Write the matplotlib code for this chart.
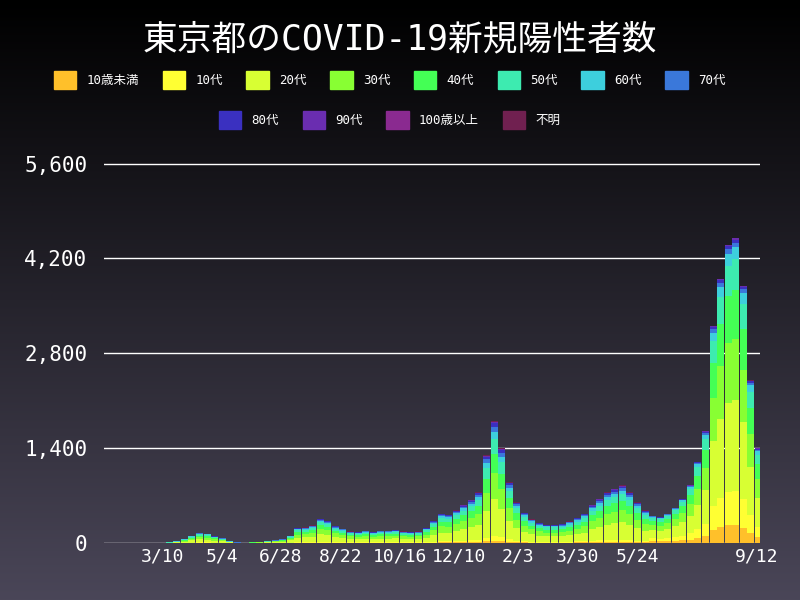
import numpy as np
import pandas as pd
import matplotlib
matplotlib.use("Agg")
import matplotlib.pyplot as plt
from matplotlib.patches import Patch
from matplotlib.colors import LinearSegmentedColormap

plt.rcParams['font.family'] = ['DejaVu Sans Mono', 'Noto Sans CJK JP']

groups = ['10歳未満', '10代', '20代', '30代', '40代', '50代', '60代', '70代',
          '80代', '90代', '100歳以上', '不明']
colors = ['#FFC02A', '#FFFF33', '#D8FF33', '#88FF33', '#44FF55', '#3DEBB0',
          '#3DCFDD', '#3A78DA', '#3A30C0', '#6A2DB0', '#8A2A90', '#702050']

# weekly average of daily new cases, weeks starting 2020-01-24
weekly_totals = [1, 1, 2, 3, 3, 5,
                 6, 10, 25, 60,
                 110, 150, 140, 100,
                 70, 25, 8, 5, 12,
                 18, 30, 40, 55,
                 110, 220, 230, 260, 360,
                 330, 250, 210, 170,
                 160, 180, 160, 180,
                 180, 190, 170, 160, 170,
                 220, 330, 430, 420,
                 480, 560, 640, 750,
                 1300, 1800, 1400, 900, 600,
                 450, 350, 300, 270,
                 270, 280, 320, 370,
                 430, 560, 650, 750, 800,
                 850, 750, 600, 480,
                 400, 380, 430, 520,
                 650, 850, 1200, 1650, 3200,
                 3900, 4400, 4500, 3800,
                 2400, 1400]
shares_early = [0.02, 0.04, 0.30, 0.21, 0.16, 0.12, 0.06, 0.04, 0.03, 0.01, 0.0, 0.01]
shares_late = [0.06, 0.11, 0.30, 0.20, 0.16, 0.10, 0.04, 0.015, 0.01, 0.004, 0.0, 0.001]
tick_labels = ['3/10', '5/4', '6/28', '8/22', '10/16', '12/10', '2/3', '3/30', '5/24', '9/12']
tick_dates = ['2020-03-10', '2020-05-04', '2020-06-28', '2020-08-22', '2020-10-16',
              '2020-12-10', '2021-02-03', '2021-03-30', '2021-05-24', '2021-09-12']

start = pd.Timestamp('2020-01-24')
weeks = pd.date_range(start, periods=len(weekly_totals), freq='7D')
x = np.array([(w - start).days for w in weeks]) + 3.5
tot = np.array(weekly_totals, float)
cut = (pd.Timestamp('2021-06-01') - start).days
S = np.array([shares_late if xi > cut else shares_early for xi in x])
S = S / S.sum(axis=1, keepdims=True)
vals = tot[:, None] * S

fig = plt.figure(figsize=(8, 6), dpi=100)
bg = fig.add_axes([0, 0, 1, 1], zorder=-10)
grad = np.linspace(0, 1, 256)[:, None]
cm = LinearSegmentedColormap.from_list('g', ['#000000', '#4a4658'])
bg.imshow(grad, aspect='auto', cmap=cm, extent=[0, 1, 0, 1], origin='upper')
bg.axis('off')

ax = fig.add_axes([0.13, 0.095, 0.82, 0.655])
ax.set_facecolor('none')
bottom = np.zeros(len(x))
for i in range(len(groups)):
    ax.bar(x, vals[:, i], width=6.5, bottom=bottom, color=colors[i], linewidth=0)
    bottom += vals[:, i]

ax.set_ylim(0, 5800)
ax.set_xlim(-8, (pd.Timestamp('2021-09-12') - start).days + 3)
ax.set_yticks([0, 1400, 2800, 4200, 5600])
ax.set_yticklabels(['0', '1,400', '2,800', '4,200', '5,600'])
ax.set_xticks([(pd.Timestamp(d) - start).days for d in tick_dates])
ax.set_xticklabels(tick_labels)
ax.grid(axis='y', color='white', linewidth=1)
ax.set_axisbelow(True)
for s in ax.spines.values():
    s.set_visible(False)
ax.tick_params(colors='white', labelsize=13, length=0)
ax.tick_params(axis='y', labelsize=15, pad=12)

fig.text(0.5, 0.935, '東京都のCOVID-19新規陽性者数', color='white', fontsize=25,
         ha='center', va='center')
h1 = [Patch(color=c) for c in colors[:8]]
h2 = [Patch(color=c) for c in colors[8:]]
fig.legend(h1, groups[:8], loc='center', bbox_to_anchor=(0.487, 0.867), ncol=8,
           frameon=False, labelcolor='white', fontsize=9, handlelength=1.8,
           handleheight=1.8, columnspacing=1.9)
fig.legend(h2, groups[8:], loc='center', bbox_to_anchor=(0.487, 0.8), ncol=4,
           frameon=False, labelcolor='white', fontsize=9, handlelength=1.8,
           handleheight=1.8, columnspacing=1.9)
fig.savefig('out.png', dpi=100)
